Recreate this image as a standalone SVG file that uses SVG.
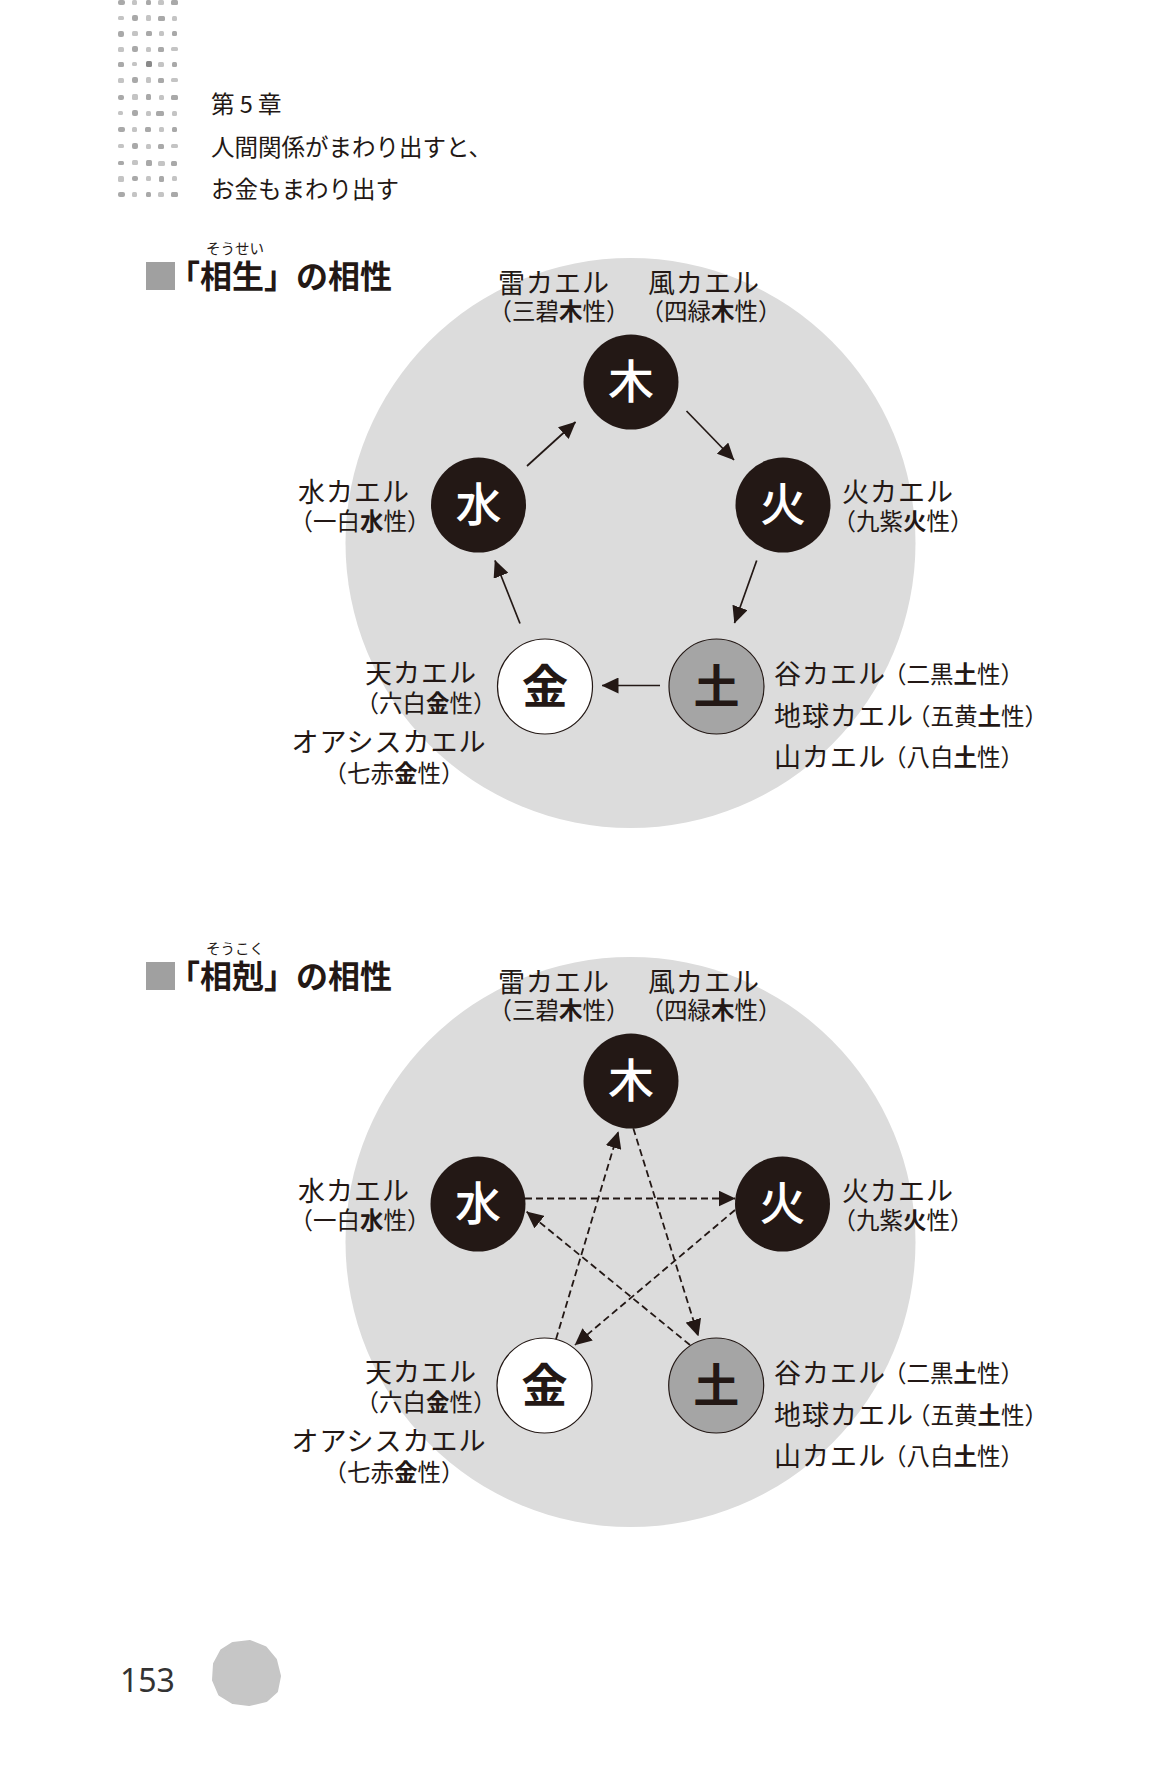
<svg xmlns="http://www.w3.org/2000/svg" width="1172" height="1766" viewBox="0 0 1172 1766">
<style>
text{font-family:"Noto Sans CJK JP","Noto Sans",sans-serif;fill:#231815}
.hd{font-size:23.5px}
.ttl{font-size:32px;font-weight:700}
.rb{font-size:14.5px;text-anchor:middle}
.lb{font-size:27px;letter-spacing:1px}
.pl{font-size:23.5px}
.pl tspan{font-weight:700}
.mid{text-anchor:middle}
.bg{fill:#dcdcdc}
.nk circle{fill:#231815}
.nk text{fill:#fff;font-size:46px;font-weight:500;text-anchor:middle}
.nw circle{fill:#fff;stroke:#231815;stroke-width:1.2}
.ng circle{fill:#a5a5a5;stroke:#231815;stroke-width:1.2}
.nw text,.ng text{fill:#231815;font-size:46px;font-weight:700;text-anchor:middle}
.c{stroke:#231815;stroke-width:1.7;fill:none;marker-end:url(#ah)}
.dash{stroke-width:1.8;stroke-dasharray:7 4}
.dt{fill:#a9a9a9}
.dt2{fill:#c4c4c4}
.dt3{fill:#8a8a8a}
</style>
<defs>
<marker id="ah" viewBox="0 0 17 16" refX="16.5" refY="8" markerWidth="17" markerHeight="16" markerUnits="userSpaceOnUse" orient="auto">
<path d="M0,0 L17,8 L0,16 z" fill="#231815"/>
</marker>
</defs>
<rect width="1172" height="1766" fill="#fff"/>

<!-- header dot pattern -->
<g id="dots">
<rect class="dt" x="118" y="0" width="7" height="5" rx="2"/><rect class="dt2" x="132" y="0" width="5" height="5" rx="1.5"/><rect class="dt" x="146" y="0" width="5" height="5" rx="1.5"/><rect class="dt2" x="158" y="0" width="6" height="5" rx="1.5"/><rect class="dt" x="171" y="0" width="7" height="5" rx="1.5"/>
<rect class="dt2" x="118" y="16" width="6" height="4" rx="1.5"/><rect class="dt" x="132" y="15" width="6" height="6" rx="2"/><rect class="dt2" x="146" y="15" width="5" height="6" rx="1.5"/><rect class="dt" x="158" y="16" width="7" height="5" rx="1.5"/><rect class="dt2" x="172" y="16" width="5" height="5" rx="1.5"/>
<rect class="dt" x="118" y="31" width="6" height="6" rx="2"/><rect class="dt2" x="132" y="31" width="6" height="5" rx="1.5"/><rect class="dt" x="146" y="31" width="6" height="5" rx="1.5"/><rect class="dt2" x="159" y="31" width="5" height="5" rx="1.5"/><rect class="dt" x="172" y="31" width="5" height="5" rx="1.5"/>
<rect class="dt2" x="118" y="47" width="6" height="5" rx="1.5"/><rect class="dt" x="132" y="46" width="6" height="6" rx="2"/><rect class="dt2" x="146" y="47" width="5" height="5" rx="1.5"/><rect class="dt" x="158" y="47" width="6" height="5" rx="1.5"/><rect class="dt2" x="171" y="47" width="7" height="4" rx="1.5"/>
<rect class="dt" x="118" y="62" width="6" height="5" rx="1.5"/><rect class="dt2" x="132" y="62" width="5" height="4" rx="1.5"/><rect class="dt3" x="146" y="61" width="6" height="6" rx="1.5"/><rect class="dt2" x="158" y="62" width="6" height="5" rx="1.5"/><rect class="dt" x="172" y="62" width="5" height="5" rx="1.5"/>
<rect class="dt2" x="118" y="78" width="6" height="5" rx="1.5"/><rect class="dt" x="132" y="77" width="6" height="6" rx="2"/><rect class="dt2" x="146" y="77" width="5" height="6" rx="1.5"/><rect class="dt" x="158" y="78" width="6" height="5" rx="1.5"/><rect class="dt2" x="171" y="78" width="7" height="4" rx="1.5"/>
<rect class="dt" x="118" y="95" width="6" height="5" rx="2"/><rect class="dt2" x="132" y="94" width="6" height="6" rx="1.5"/><rect class="dt" x="146" y="94" width="5" height="6" rx="1.5"/><rect class="dt2" x="159" y="95" width="5" height="5" rx="1.5"/><rect class="dt" x="171" y="95" width="7" height="5" rx="1.5"/>
<rect class="dt2" x="118" y="111" width="5" height="4" rx="1.5"/><rect class="dt" x="132" y="110" width="6" height="6" rx="2"/><rect class="dt2" x="146" y="111" width="5" height="5" rx="1.5"/><rect class="dt" x="156" y="111" width="8" height="5" rx="1.5"/><rect class="dt2" x="172" y="111" width="5" height="5" rx="1.5"/>
<rect class="dt" x="118" y="127" width="7" height="5" rx="2"/><rect class="dt2" x="132" y="127" width="5" height="5" rx="1.5"/><rect class="dt" x="145" y="127" width="6" height="5" rx="1.5"/><rect class="dt2" x="159" y="127" width="5" height="5" rx="1.5"/><rect class="dt" x="172" y="127" width="5" height="5" rx="1.5"/>
<rect class="dt2" x="118" y="144" width="6" height="4" rx="1.5"/><rect class="dt" x="132" y="143" width="6" height="6" rx="2"/><rect class="dt2" x="146" y="144" width="5" height="5" rx="1.5"/><rect class="dt" x="158" y="144" width="6" height="5" rx="1.5"/><rect class="dt2" x="171" y="144" width="7" height="4" rx="1.5"/>
<rect class="dt" x="118" y="161" width="6" height="4" rx="1.5"/><rect class="dt2" x="132" y="160" width="6" height="5" rx="1.5"/><rect class="dt" x="146" y="160" width="6" height="6" rx="1.5"/><rect class="dt2" x="158" y="161" width="7" height="5" rx="1.5"/><rect class="dt" x="171" y="161" width="6" height="5" rx="1.5"/>
<rect class="dt2" x="118" y="176" width="6" height="6" rx="1.5"/><rect class="dt" x="132" y="176" width="6" height="5" rx="2"/><rect class="dt2" x="146" y="176" width="5" height="5" rx="1.5"/><rect class="dt" x="159" y="176" width="5" height="6" rx="1.5"/><rect class="dt2" x="172" y="176" width="5" height="5" rx="1.5"/>
<rect class="dt" x="118" y="192" width="7" height="5" rx="2"/><rect class="dt2" x="132" y="192" width="5" height="5" rx="1.5"/><rect class="dt" x="146" y="192" width="5" height="5" rx="1.5"/><rect class="dt2" x="158" y="192" width="6" height="5" rx="1.5"/><rect class="dt" x="171" y="192" width="7" height="5" rx="1.5"/>
</g>

<g id="header">
<text class="hd" x="211" y="113">第 5 章</text>
<text class="hd" x="211" y="156">人間関係がまわり出すと、</text>
<text class="hd" x="211" y="198">お金もまわり出す</text>
</g>

<!-- ===== 相生 ===== -->
<g id="title1">
<rect x="146" y="262" width="29" height="28" fill="#a0a0a0"/>
<text class="rb" x="235" y="254">そうせい</text>
<text class="ttl" x="168" y="288">「相生」の相性</text>
</g>
<circle id="bg1" class="bg" cx="630.5" cy="543" r="285"/>

<g id="labels1">
<text class="lb mid" x="554" y="293">雷カエル</text>
<text class="pl mid" x="559" y="320">（三碧<tspan>木</tspan>性）</text>
<text class="lb mid" x="704" y="293">風カエル</text>
<text class="pl mid" x="711" y="320">（四緑<tspan>木</tspan>性）</text>
<text class="lb mid" x="354" y="502">水カエル</text>
<text class="pl mid" x="360" y="530">（一白<tspan>水</tspan>性）</text>
<text class="lb mid" x="898" y="502">火カエル</text>
<text class="pl mid" x="903" y="530">（九紫<tspan>火</tspan>性）</text>
<text class="lb mid" x="421" y="683">天カエル</text>
<text class="pl mid" x="426" y="712">（六白<tspan>金</tspan>性）</text>
<text class="lb mid" x="389" y="752">オアシスカエル</text>
<text class="pl mid" x="394" y="782">（七赤<tspan>金</tspan>性）</text>
<text class="lb" x="774" y="684">谷カエル</text>
<text class="pl" x="883" y="683">（二黒<tspan>土</tspan>性）</text>
<text class="lb" x="774" y="726">地球カエル</text>
<text class="pl" x="907" y="725">（五黄<tspan>土</tspan>性）</text>
<text class="lb" x="774" y="767">山カエル</text>
<text class="pl" x="883" y="766">（八白<tspan>土</tspan>性）</text>
</g>

<g id="connectors1">
<path class="c" d="M527,466 L575.5,422"/>
<path class="c" d="M686.5,411 L734,460"/>
<path class="c" d="M756.7,560.5 L734.5,623"/>
<path class="c" d="M660,685.5 L602,685.5"/>
<path class="c" d="M520,623.5 L495,560.5"/>
</g>

<g id="wood1" class="nk" transform="translate(631,382)"><circle r="47.5"/><text y="16">木</text></g>
<g id="water1" class="nk" transform="translate(478.5,505)"><circle r="47.5"/><text y="16">水</text></g>
<g id="fire1" class="nk" transform="translate(783,505)"><circle r="47.5"/><text y="16">火</text></g>
<g id="metal1" class="nw" transform="translate(545,686.5)"><circle r="47.5"/><text y="16">金</text></g>
<g id="earth1" class="ng" transform="translate(716.5,686.5)"><circle r="47.5"/><text y="16">土</text></g>

<!-- ===== 相剋 ===== -->
<g id="title2">
<rect x="146" y="962" width="29" height="28" fill="#a0a0a0"/>
<text class="rb" x="235" y="954">そうこく</text>
<text class="ttl" x="168" y="988">「相剋」の相性</text>
</g>
<circle id="bg2" class="bg" cx="630.5" cy="1242" r="285"/>

<g id="labels2">
<text class="lb mid" x="554" y="992">雷カエル</text>
<text class="pl mid" x="559" y="1019">（三碧<tspan>木</tspan>性）</text>
<text class="lb mid" x="704" y="992">風カエル</text>
<text class="pl mid" x="711" y="1019">（四緑<tspan>木</tspan>性）</text>
<text class="lb mid" x="354" y="1201">水カエル</text>
<text class="pl mid" x="360" y="1229">（一白<tspan>水</tspan>性）</text>
<text class="lb mid" x="898" y="1201">火カエル</text>
<text class="pl mid" x="903" y="1229">（九紫<tspan>火</tspan>性）</text>
<text class="lb mid" x="421" y="1382">天カエル</text>
<text class="pl mid" x="426" y="1411">（六白<tspan>金</tspan>性）</text>
<text class="lb mid" x="389" y="1451">オアシスカエル</text>
<text class="pl mid" x="394" y="1481">（七赤<tspan>金</tspan>性）</text>
<text class="lb" x="774" y="1383">谷カエル</text>
<text class="pl" x="883" y="1382">（二黒<tspan>土</tspan>性）</text>
<text class="lb" x="774" y="1425">地球カエル</text>
<text class="pl" x="907" y="1424">（五黄<tspan>土</tspan>性）</text>
<text class="lb" x="774" y="1466">山カエル</text>
<text class="pl" x="883" y="1465">（八白<tspan>土</tspan>性）</text>
</g>

<g id="connectors2">
<path class="c dash" d="M525,1198.5 L735,1198.5"/>
<path class="c dash" d="M556,1339.3 L618.3,1131.7"/>
<path class="c dash" d="M633.3,1128.3 L698.3,1336"/>
<path class="c dash" d="M690,1345 L526.7,1211.7"/>
<path class="c dash" d="M735,1210 L575,1345"/>
</g>

<g id="wood2" class="nk" transform="translate(631,1081)"><circle r="47.5"/><text y="16">木</text></g>
<g id="water2" class="nk" transform="translate(478,1204)"><circle r="47.5"/><text y="16">水</text></g>
<g id="fire2" class="nk" transform="translate(782.5,1204)"><circle r="47.5"/><text y="16">火</text></g>
<g id="metal2" class="nw" transform="translate(544.5,1385.5)"><circle r="47.5"/><text y="16">金</text></g>
<g id="earth2" class="ng" transform="translate(716.2,1385.5)"><circle r="47.5"/><text y="16">土</text></g>

<!-- footer -->
<g id="footer">
<text x="120" y="1692" style="font-family:'Noto Sans','Liberation Sans',sans-serif;font-size:32px;fill:#333">153</text>
<path d="M233,1644 L250,1642 L265,1648 L275,1660 L279,1676 L276,1691 L266,1700 L249,1704 L233,1702 L220,1694 L214,1680 L215,1664 L222,1651 Z" fill="#c6c6c6" stroke="#c6c6c6" stroke-width="4" stroke-linejoin="round"/>
</g>
</svg>
